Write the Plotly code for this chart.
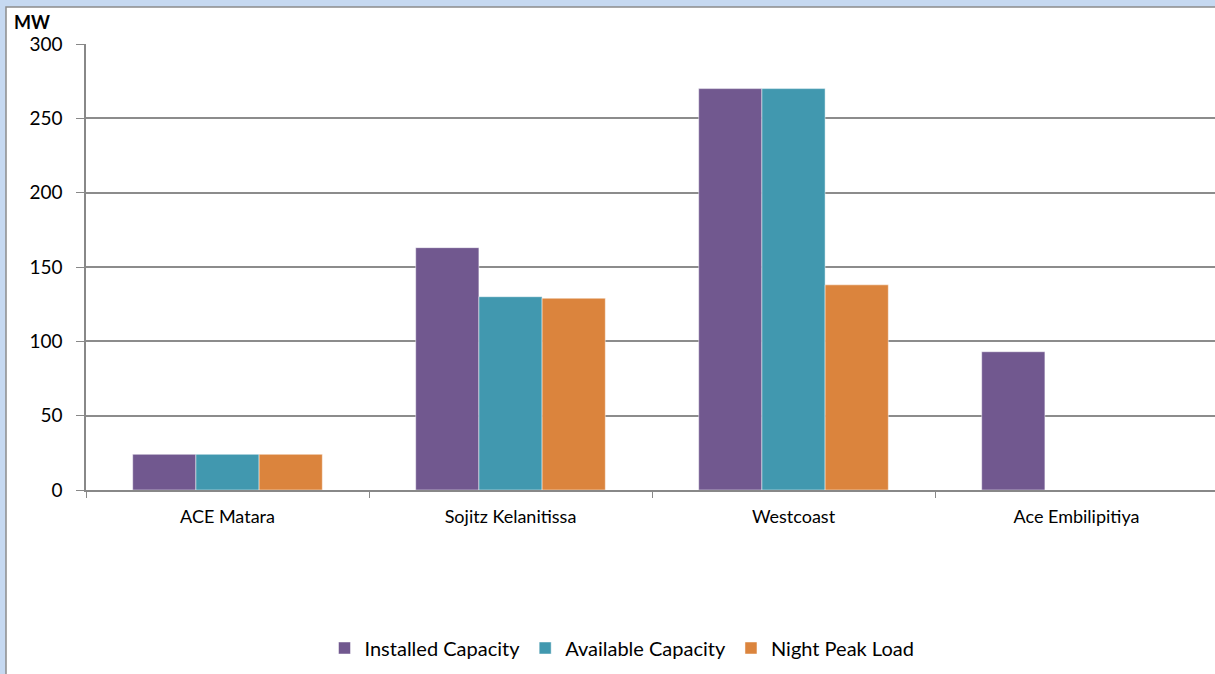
import plotly.graph_objects as go

categories = ["ACE Matara", "Sojitz Kelanitissa", "Westcoast", "Ace Embilipitiya"]
installed = [24, 163, 270, 93]
available = [24, 130, 270, None]
night_peak = [24, 129, 138, None]

series = [
    ("Installed Capacity", installed, "#71588F"),
    ("Available Capacity", available, "#4198AF"),
    ("Night Peak Load", night_peak, "#DB843D"),
]

W, H = 1215, 674
L, R, T, B = 86, 0, 44, 184
pw, ph = W - L - R, H - T - B

def px(x):
    return (x - L) / pw

def py(y):
    return (H - B - y) / ph

fig = go.Figure()
for name, vals, col in series:
    fig.add_trace(go.Bar(
        x=categories, y=vals, name=name,
        marker=dict(color=col, line=dict(color="rgba(255,255,255,0.6)", width=0.8)),
    ))

font = "Lato"
fig.update_layout(
    width=W, height=H,
    margin=dict(l=L, r=R, t=T, b=B, autoexpand=False),
    paper_bgcolor="#C6D9F1",
    plot_bgcolor="white",
    barmode="group",
    bargap=0.33,
    bargroupgap=0,
    font=dict(family=font, color="black"),
    showlegend=True,
    legend=dict(orientation="h", x=px(622), xanchor="center", y=py(648), yanchor="middle",
                font=dict(size=20, family=font), itemwidth=30, traceorder="normal",
                bgcolor="rgba(0,0,0,0)"),
    xaxis=dict(
        range=[-0.5, 3.5 - 3 / 283], tickson="boundaries", ticks="outside", ticklen=6,
        tickcolor="#888888", showline=True, linecolor="#888888", linewidth=1.5,
        tickfont=dict(size=18, family=font), showgrid=False, ticklabelstandoff=10,
    ),
    yaxis=dict(
        range=[0, 300], dtick=50, ticks="outside", ticklen=8, tickcolor="#888888",
        showline=True, linecolor="#888888", linewidth=1.5,
        showgrid=True, gridcolor="#8C8C8C", gridwidth=1.5, zeroline=False,
        tickfont=dict(size=19, family=font), ticklabelstandoff=10,
    ),
    shapes=[
        dict(type="rect", xref="paper", yref="paper", x0=px(6), x1=px(W + 10), y0=py(H + 10), y1=py(7),
             fillcolor="white", line=dict(color="#8C8C8C", width=1.5), layer="below"),
    ],
    annotations=[
        dict(text="<b>MW</b>", xref="paper", yref="paper", x=px(12), y=py(22), xanchor="left",
             yanchor="middle", showarrow=False, font=dict(size=18, family=font)),
    ],
)

fig.write_html(
    "out.html",
    config={"displayModeBar": False},
    post_script="document.body.style.margin='0';document.body.style.overflow='hidden';",
)
